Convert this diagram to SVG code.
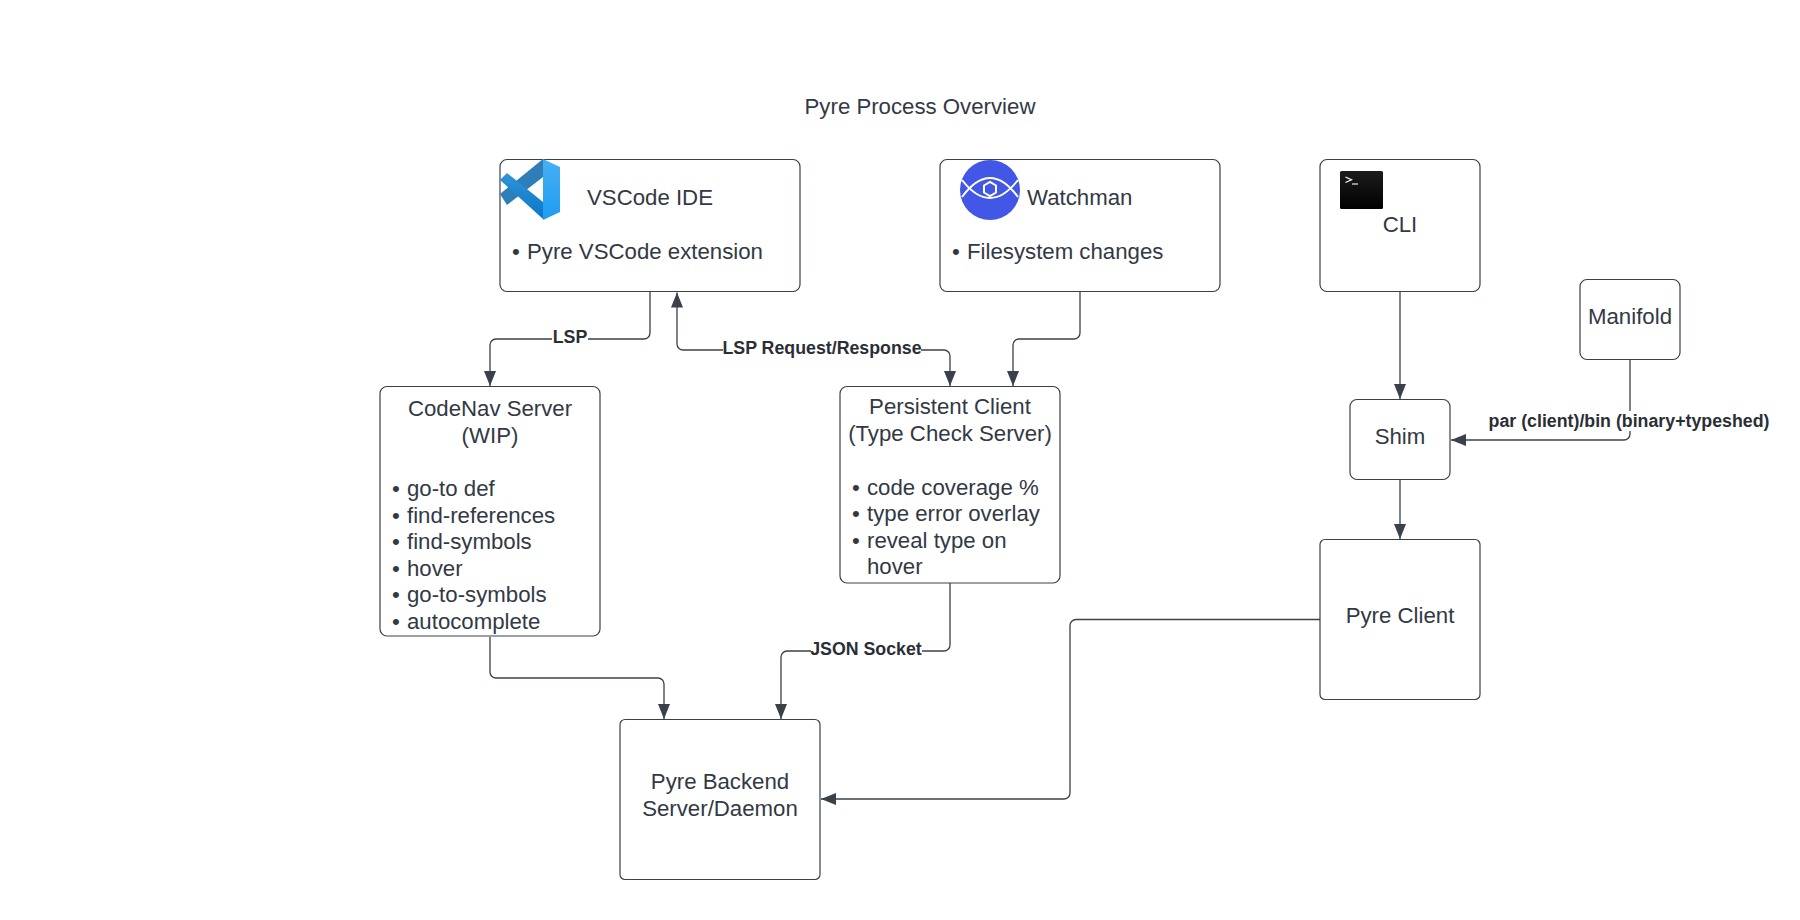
<svg xmlns="http://www.w3.org/2000/svg" width="1800" height="920" viewBox="0 0 1800 920">
<defs>
<marker id="arrow" markerUnits="userSpaceOnUse" markerWidth="16" markerHeight="14" refX="15" refY="7" orient="auto-start-reverse" viewBox="0 0 16 14"><path d="M0 1 L15 7 L0 13 Z" fill="#3a414a"/></marker>
<linearGradient id="vs1" x1="0" y1="0" x2="0" y2="1"><stop offset="0" stop-color="#2f93d8"/><stop offset="1" stop-color="#0a78c7"/></linearGradient>
<linearGradient id="vs2" x1="0" y1="0" x2="0" y2="1"><stop offset="0" stop-color="#46b0f5"/><stop offset="1" stop-color="#1f9cf0"/></linearGradient>
<linearGradient id="term" x1="0" y1="0" x2="0" y2="1"><stop offset="0" stop-color="#1c1c1c"/><stop offset="1" stop-color="#000"/></linearGradient>
</defs>
<style>
text{font-family:"Liberation Sans",Arial,sans-serif;fill:#323945}
.n{fill:#fff;stroke:#3a414a;stroke-width:1.2}
.t{font-size:22.22px}
.m{text-anchor:middle}
.c{fill:none;stroke:#3a414a;stroke-width:1.3;marker-end:url(#arrow)}
.l{font-size:17.78px;font-weight:bold;fill:#2a2f36;text-anchor:middle}
.b{fill:#fff;stroke:none}
</style>
<text id="title" class="t m" x="920" y="114.300">Pyre Process Overview</text>
<g id="connectors">
<path class="c" d="M650 292V333a6 6 0 0 1-6 6H496a6 6 0 0 0-6 6V386"/>
<path class="c" style="marker-start:url(#arrow)" d="M950 386V356a6 6 0 0 0-6-6H683a6 6 0 0 1-6-6V292.500"/>
<path class="c" d="M1080 292V333a6 6 0 0 1-6 6H1019a6 6 0 0 0-6 6V386"/>
<path class="c" d="M1400 292V399"/>
<path class="c" d="M1400 480V539"/>
<path class="c" d="M1630 360V434a6 6 0 0 1-6 6H1451"/>
<path class="c" d="M490 637V672a6 6 0 0 0 6 6H658a6 6 0 0 1 6 6V719"/>
<path class="c" d="M950 583V645a6 6 0 0 1-6 6H787a6 6 0 0 0-6 6V719"/>
<path class="c" d="M1320 619.500H1076a6 6 0 0 0-6 6V793a6 6 0 0 1-6 6H821"/>
<rect class="b" x="552" y="326" width="36" height="20"/>
<text class="l" x="570" y="343">LSP</text>
<rect class="b" x="723" y="338" width="198" height="20"/>
<text class="l" x="822" y="354">LSP Request/Response</text>
<rect class="b" x="811" y="639" width="111" height="20"/>
<text class="l" x="866" y="655">JSON Socket</text>
<rect class="b" x="1489" y="411" width="281" height="20"/>
<text class="l" x="1629" y="427">par (client)/bin (binary+typeshed)</text>
</g>
<g id="vscode">
<rect class="n" x="500" y="159.500" width="300" height="132" rx="7"/>
<path d="M543 159 L500 194 L507 205 L543 177 Z" fill="#2e7fb8"/>
<path d="M507 173 L500 180 L543 219 L543 202 Z" fill="url(#vs1)"/>
<path d="M543 159 L560 167 L560 212 L543 220 Z" fill="url(#vs2)"/>
<text class="t" x="587" y="205.300">VSCode IDE</text>
<text class="t" x="512" y="259.300">•</text>
<text class="t" x="527" y="259.300">Pyre VSCode extension</text>
</g>
<g id="watchman">
<rect class="n" x="940" y="159.500" width="280" height="132" rx="7"/>
<circle cx="990" cy="190" r="30" fill="#4257e6"/>
<path d="M962 197 Q990 159 1018 197 M962 180 Q990 216 1018 180" stroke="#fff" stroke-width="2" fill="none"/>
<path d="M984 185.500L990 182L996 185.500V192.500L990 196L984 192.500Z" fill="none" stroke="#fff" stroke-width="2"/>
<text class="t" x="1027" y="205.300">Watchman</text>
<text class="t" x="952" y="259.300">•</text>
<text class="t" x="967" y="259.300">Filesystem changes</text>
</g>
<g id="cli">
<rect class="n" x="1320" y="159.500" width="160" height="132" rx="7"/>
<rect x="1340" y="171" width="43" height="38" rx="1.500" fill="url(#term)"/>
<path d="M1345.500 177L1351.500 179.800L1345.500 182.500" stroke="#fff" stroke-width="1.200" fill="none"/>
<path d="M1352 184H1358" stroke="#bbb" stroke-width="1.500" fill="none"/>
<text class="t m" x="1400" y="232.300">CLI</text>
</g>
<g id="manifold">
<rect class="n" x="1580" y="279.500" width="100" height="80" rx="7"/>
<text class="t m" x="1630" y="324.300">Manifold</text>
</g>
<g id="shim">
<rect class="n" x="1350" y="399.500" width="100" height="80" rx="7"/>
<text class="t m" x="1400" y="444.300">Shim</text>
</g>
<g id="pyre-client">
<rect class="n" x="1320" y="539.500" width="160" height="160" rx="5"/>
<text class="t m" x="1400" y="623.300">Pyre Client</text>
</g>
<g id="codenav">
<rect class="n" x="380" y="386.500" width="220" height="249.500" rx="7"/>
<text class="t m" x="490" y="416.300">CodeNav Server</text>
<text class="t m" x="490" y="443.300">(WIP)</text>
<text class="t" x="392" y="496.300">•</text><text class="t" x="407" y="496.300">go-to def</text>
<text class="t" x="392" y="523.300">•</text><text class="t" x="407" y="523.300">find-references</text>
<text class="t" x="392" y="549.300">•</text><text class="t" x="407" y="549.300">find-symbols</text>
<text class="t" x="392" y="576.300">•</text><text class="t" x="407" y="576.300">hover</text>
<text class="t" x="392" y="602.300">•</text><text class="t" x="407" y="602.300">go-to-symbols</text>
<text class="t" x="392" y="629.300">•</text><text class="t" x="407" y="629.300">autocomplete</text>
</g>
<g id="persistent">
<rect class="n" x="840" y="386.500" width="220" height="196.500" rx="7"/>
<text class="t m" x="950" y="414.300">Persistent Client</text>
<text class="t m" x="950" y="441.300">(Type Check Server)</text>
<text class="t" x="852" y="495.300">•</text><text class="t" x="867" y="495.300">code coverage %</text>
<text class="t" x="852" y="521.300">•</text><text class="t" x="867" y="521.300">type error overlay</text>
<text class="t" x="852" y="548.300">•</text><text class="t" x="867" y="548.300">reveal type on</text>
<text class="t" x="867" y="574.300">hover</text>
</g>
<g id="backend">
<rect class="n" x="620" y="719.500" width="200" height="160" rx="5"/>
<text class="t m" x="720" y="789.300">Pyre Backend</text>
<text class="t m" x="720" y="815.800">Server/Daemon</text>
</g>
</svg>
